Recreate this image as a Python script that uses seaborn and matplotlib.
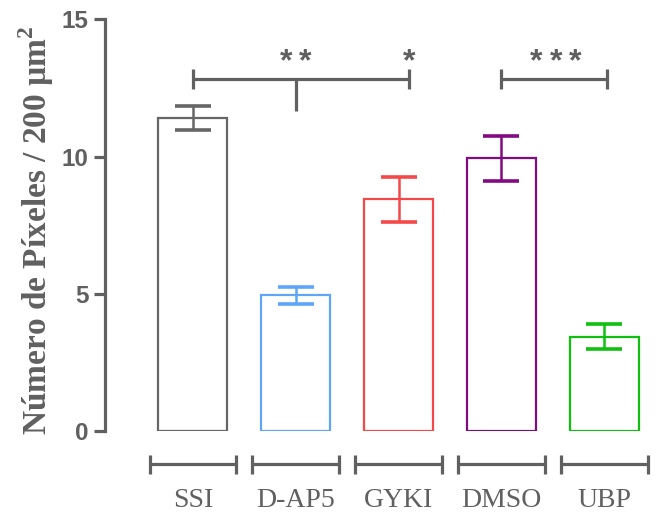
import matplotlib
matplotlib.use("Agg")
import matplotlib.pyplot as plt
import seaborn as sns
import pandas as pd

# Group names, means and SEM (pixels per 200 µm²)
groups = ["SSI", "D-AP5", "GYKI", "DMSO", "UBP"]
means = [11.40, 4.96, 8.44, 9.93, 3.45]
sems = [0.43, 0.31, 0.82, 0.83, 0.45]
colors = ["#666666", "#5fa5fa", "#f54848", "#820a82", "#10c010"]
y_ticks = [0, 5, 10, 15]

GRAY = "#606060"

sns.set_theme(style="white")
plt.rcParams["font.family"] = ["Liberation Sans", "DejaVu Sans"]

df = pd.DataFrame({"group": groups, "value": means})

fig = plt.figure(figsize=(6.72, 5.18), dpi=100)
ax = fig.add_axes([0.15625, 0.167, 0.835, 0.7963])

sns.barplot(data=df, x="group", y="value", hue="group", palette=colors,
            fill=False, width=0.667, linewidth=1.6, legend=False,
            errorbar=None, ax=ax)

# Outline colour for each bar follows its group colour
for patch, c in zip(ax.patches, colors):
    patch.set_edgecolor(c)
    patch.set_facecolor("none")
    patch.set_linewidth(1.6)

# Mean ± SEM
for i, (m, s, c) in enumerate(zip(means, sems, colors)):
    ax.errorbar(i, m, yerr=s, fmt="none", ecolor=c, elinewidth=1.8,
                capsize=13, capthick=2.6, zorder=5)

ax.set_xlim(-0.853, 4.6)
ax.set_ylim(0, 15)
ax.set_yticks(y_ticks)
ax.set_yticklabels([str(t) for t in y_ticks], fontsize=17.5,
                   fontweight="bold", color=GRAY)

for side in ["top", "right", "bottom"]:
    ax.spines[side].set_visible(False)
ax.spines["left"].set_color(GRAY)
ax.spines["left"].set_linewidth(2.3)
ax.spines["left"].set_bounds(0, 15)
ax.tick_params(axis="y", length=8, width=2.3, color=GRAY, pad=4, left=True)
ax.tick_params(axis="x", length=0, pad=41)
ax.set_xticks(range(len(groups)))
ax.set_xticklabels(groups, fontsize=20, color=GRAY,
                   family=["Liberation Serif", "DejaVu Serif"])
ax.set_xlabel("")
ax.set_ylabel("Número de Píxeles / 200 µm$^{\\mathregular{2}}$", fontsize=24,
              fontweight="bold", color=GRAY,
              family=["Liberation Serif", "DejaVu Serif"])
ax.yaxis.set_label_coords(-0.088, 0.487)

# Broken x axis: one capped segment under each group
seg_half = 0.42
seg_y = -1.2
tick_h = 0.35
for i in range(len(groups)):
    ax.plot([i - seg_half, i + seg_half], [seg_y, seg_y], color=GRAY,
            lw=2.3, clip_on=False, solid_capstyle="butt")
    for xe in (i - seg_half, i + seg_half):
        ax.plot([xe, xe], [seg_y - tick_h, seg_y + tick_h], color=GRAY,
                lw=2.3, clip_on=False, solid_capstyle="butt")


def stars(xc, n, y=13.44, pitch=0.19):
    """Draw n asterisks centred on xc, spaced like a significance label."""
    start = xc - pitch * (n - 1) / 2
    for k in range(n):
        ax.text(start + k * pitch, y, "*", ha="center", va="center",
                fontsize=23, fontweight="bold", color=GRAY)


def bracket(x0, x1, y, h=0.36):
    ax.plot([x0, x1], [y, y], color=GRAY, lw=2.3, solid_capstyle="butt")
    for xe in (x0, x1):
        ax.plot([xe, xe], [y - h, y + h], color=GRAY, lw=2.3,
                solid_capstyle="butt")


# SSI vs D-AP5 (**) and vs GYKI (*)
bracket(0, 2.1, 12.81)
ax.plot([1, 1], [12.81, 11.65], color=GRAY, lw=2.3, solid_capstyle="butt")
stars(1.0, 2)
stars(2.1, 1)
# DMSO vs UBP (***)
bracket(3, 4.03, 12.81)
stars(3.53, 3)

fig.savefig("out.png", dpi=100)
